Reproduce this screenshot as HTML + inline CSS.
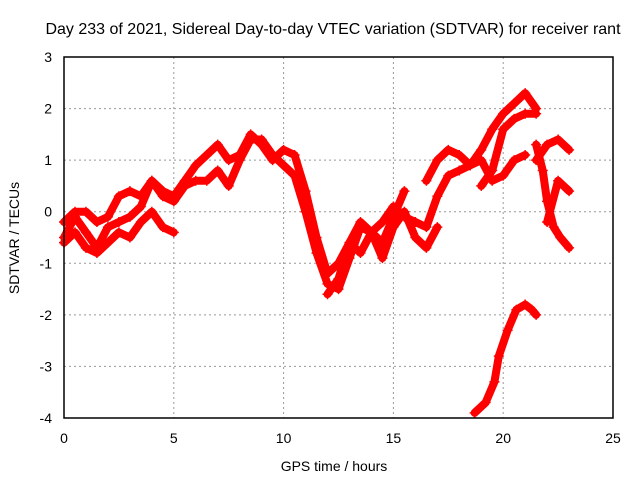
<!DOCTYPE html>
<html><head><meta charset="utf-8"><style>
body{margin:0;background:#fff;}
svg{display:block;font-family:"Liberation Sans",sans-serif;}
</style></head><body>
<svg id="chart" width="640" height="480">
<text x="333" y="34" font-size="16" text-anchor="middle">Day 233 of 2021, Sidereal Day-to-day VTEC variation (SDTVAR) for receiver rant</text>
<text x="334" y="471" font-size="14" text-anchor="middle">GPS time / hours</text>
<text transform="translate(19,238) rotate(-90)" font-size="14" text-anchor="middle">SDTVAR / TECUs</text>
<g id="grid"></g><g id="marks"></g>
<rect x="64" y="57" width="549" height="361" fill="none" stroke="#000" stroke-width="1.5"/>
</svg>
<script>
const xTicks=[0,5,10,15,20,25];
const yTicks=[-4,-3,-2,-1,0,1,2,3];
const traceA_t=[0,0.5,1,1.5,2,2.5,3,3.5,4,4.5,5,5.5,6,6.5,7,7.5,8,8.5,9,9.5,10,10.5,11,11.5,12,12.5,13,13.5,14,14.5,15,15.5,16,16.5,17,17.5,18,18.5,19,19.5,20,20.5,21];
const traceA_v=[-0.5,-0.1,-0.4,-0.7,-0.3,-0.2,-0.1,0.1,0.6,0.3,0.2,0.5,0.6,0.6,0.8,0.5,1.0,1.4,1.4,1.1,0.9,0.7,0.0,-0.8,-1.4,-1.5,-0.9,-0.3,-0.4,-0.2,0.1,-0.1,-0.2,-0.3,0.3,0.7,0.8,0.9,1.0,0.6,0.7,1.0,1.1];
const traceB_t=[0,0.5,1,1.5,2,2.5,3,3.5,4,4.5,5,5.5,6,6.5,7,7.5,8,8.5,9,9.5,10,10.5,11,11.5,12,12.5,13,13.5,14,14.5,15,15.5];
const traceB_v=[-0.2,0.0,0.0,-0.2,-0.1,0.3,0.4,0.3,0.6,0.4,0.3,0.6,0.9,1.1,1.3,1.0,1.1,1.5,1.3,1.0,1.2,1.1,0.4,-0.5,-1.2,-1.0,-0.6,-0.2,-0.4,-0.6,-0.1,0.4];
const traceC_t=[16.5,17,17.5,18,18.5,19,19.5,20,20.5,21,21.5];
const traceC_v=[0.6,1.0,1.2,1.1,0.9,1.2,1.6,1.9,2.1,2.3,2.0];
const traceD_t=[19,19.5,20,20.5,21,21.5];
const traceD_v=[0.5,0.8,1.6,1.8,1.9,1.9];
const traceE_t=[18.7,19.2,19.6,19.8,20.2,20.6,21,21.3,21.5];
const traceE_v=[-3.9,-3.7,-3.3,-2.8,-2.3,-1.9,-1.8,-1.9,-2.0];
const traceF_t=[21.5,21.8,22,22.3,22.6,23];
const traceF_v=[1.3,0.8,0.2,-0.3,-0.5,-0.7];
const traceG_t=[21.5,22,22.5,23];
const traceG_v=[1.0,1.3,1.4,1.2];
const traceH_t=[22,22.5,23];
const traceH_v=[-0.2,0.6,0.4];
const traceI_t=[0,0.5,1,1.5,2,2.5,3,3.5,4,4.5,5];
const traceI_v=[-0.6,-0.4,-0.7,-0.8,-0.6,-0.4,-0.5,-0.2,0.0,-0.3,-0.4];
const traceJ_t=[12,12.5,13,13.5,14,14.5,15,15.5,16,16.5,17];
const traceJ_v=[-1.6,-1.3,-0.6,-0.8,-0.4,-0.9,-0.3,0.0,-0.5,-0.7,-0.3];

const NS="http://www.w3.org/2000/svg";
const X=t=>64+t*549/25;
const Y=v=>57+(3-v)*361/7;
function mk(tag,attrs,parent){const e=document.createElementNS(NS,tag);for(const k in attrs)e.setAttribute(k,attrs[k]);parent.appendChild(e);return e;}
const grid=document.getElementById('grid'),marks=document.getElementById('marks'),svg=document.getElementById('chart');
xTicks.forEach(t=>{
  if(t>0&&t<25){const g=mk('line',{x1:X(t),x2:X(t),y1:57,y2:418,stroke:'#999','stroke-dasharray':'2,3'},grid);
  
  }
  const l=mk('text',{x:X(t),y:443,'font-size':14,'text-anchor':'middle'},svg);l.textContent=t;
  
  
});
yTicks.forEach(v=>{
  if(v>-4&&v<3){const g=mk('line',{x1:64,x2:613,y1:Y(v),y2:Y(v),stroke:'#999','stroke-dasharray':'2,3'},grid);
  
  }
  const l=mk('text',{x:52,y:Y(v)+5,'font-size':14,'text-anchor':'end'},svg);l.textContent=v;
  
  
});
const traces=[[traceA_t,traceA_v],[traceB_t,traceB_v],[traceC_t,traceC_v],[traceD_t,traceD_v],[traceE_t,traceE_v],[traceF_t,traceF_v],[traceG_t,traceG_v],[traceH_t,traceH_v],[traceI_t,traceI_v],[traceJ_t,traceJ_v]];
traces.forEach(([ts,vs])=>{
  const pts=ts.map((t,i)=>X(t)+','+Y(vs[i])).join(' ');
  const pl=mk('polyline',{points:pts,fill:'none',stroke:'#f00','stroke-width':8,'stroke-linejoin':'round','stroke-linecap':'round'},marks);
  
  
  ts.forEach((t,i)=>{
    const x=X(t),y=Y(vs[i]);
    const p=mk('path',{d:`M${x-5},${y}H${x+5}M${x},${y-5}V${y+5}`,stroke:'#f00','stroke-width':1.5},marks);
    
    
  });
});
</script>
</body></html>
